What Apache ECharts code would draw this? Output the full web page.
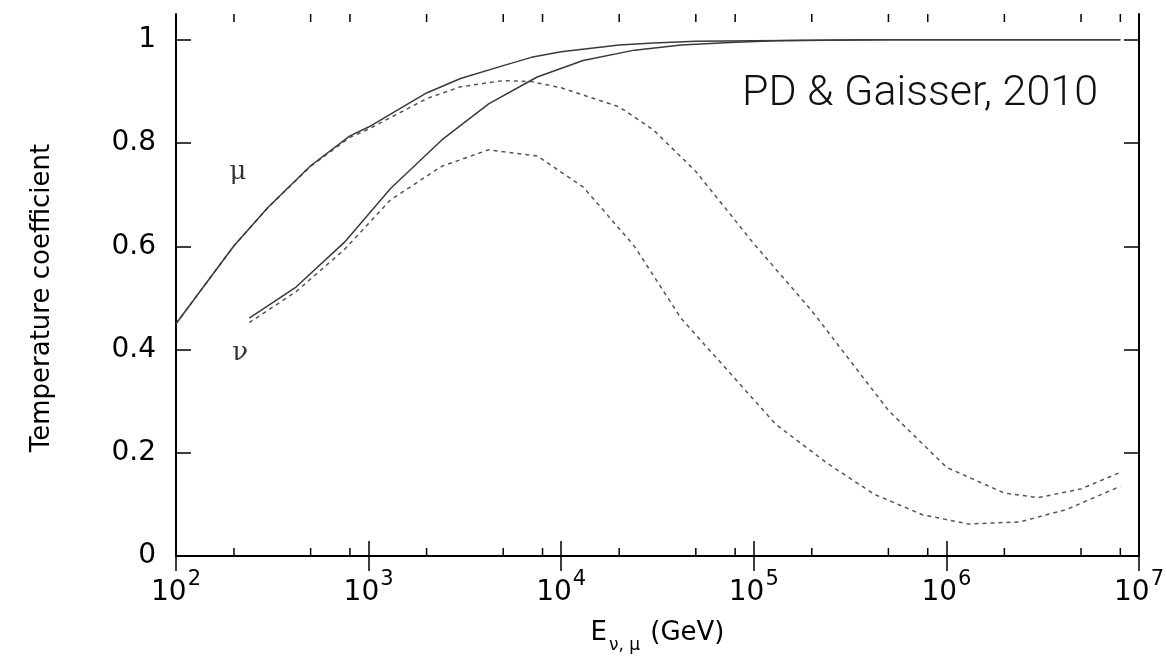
<!DOCTYPE html>
<html>
<head>
<meta charset="utf-8">
<script src="https://cdn.jsdelivr.net/npm/echarts@6/dist/echarts.min.js"></script>
<style>
html,body{margin:0;padding:0;background:#fff;}
#chart{width:1167px;height:659px;}
</style>
</head>
<body>
<div id="chart"></div>
<script>
// ---- data ----
var muX = [100, 200, 300, 500, 800, 1000, 2000, 3000, 5000, 7000, 1e4, 2e4, 3e4, 5e4, 1e5, 2e5, 5e5, 1e6, 2e6, 3e6, 5e6, 8e6];
var muSolid = [0.450, 0.601, 0.675, 0.756, 0.814, 0.831, 0.897, 0.925, 0.950, 0.966, 0.977, 0.990, 0.994, 0.997, 0.998, 0.999, 1.0, 1.0, 1.0, 1.0, 1.0, 1.0];
var muDashed = [0.450, 0.601, 0.675, 0.755, 0.811, 0.827, 0.886, 0.909, 0.921, 0.919, 0.907, 0.870, 0.826, 0.745, 0.605, 0.475, 0.282, 0.172, 0.122, 0.113, 0.130, 0.162];

var nuX = [240, 420, 750, 1300, 2400, 4200, 7500, 1.3e4, 2.4e4, 4.2e4, 7.5e4, 1.3e5, 2.4e5, 4.2e5, 7.5e5, 1.3e6, 2.4e6, 4.2e6, 8e6];
var nuSolid = [0.461, 0.521, 0.608, 0.712, 0.806, 0.876, 0.928, 0.960, 0.980, 0.990, 0.995, 0.998, 0.999, 1.0, 1.0, 1.0, 1.0, 1.0, 1.0];
var nuDashed = [0.452, 0.512, 0.594, 0.690, 0.755, 0.787, 0.775, 0.715, 0.600, 0.460, 0.355, 0.255, 0.180, 0.120, 0.080, 0.062, 0.066, 0.090, 0.135];

var xTickValues = [1e2, 1e3, 1e4, 1e5, 1e6, 1e7];
var xTickSup = ['2', '3', '4', '5', '6', '7'];
var xMinorTicks = [2e2, 5e2, 8e2, 2e3, 5e3, 8e3, 2e4, 5e4, 8e4, 2e5, 5e5, 8e5, 2e6, 5e6, 8e6];
var yTicks = [0, 0.2, 0.4, 0.6, 0.8, 1];
var yTickLabels = ['0', '0.2', '0.4', '0.6', '0.8', '1'];

var curveLabels = ['\u03bc', '\u03bd'];
var curveLabelPos = [[210, 0.744], [215, 0.393]];

var annotation = 'PD & Gaisser, 2010';
var xName = ['E', '\u03bd, \u03bc', ' (GeV)'];
var yName = 'Temperature coefficient';

function pairs(xs, ys) { return xs.map(function (x, i) { return [x, ys[i]]; }); }

var FONT = 'DejaVu Sans';
var chart = echarts.init(document.getElementById('chart'), null, {renderer: 'canvas'});

var frameLine = {show: true, lineStyle: {color: '#000', width: 2}};
var majorTick = {show: true, inside: true, length: 15, lineStyle: {color: '#000', width: 1.5}};

var option = {
  backgroundColor: '#fff',
  animation: false,
  grid: {left: 176, right: 26, top: 14, bottom: 103, containLabel: false},
  graphic: [{
    type: 'text', right: 69, top: 73,
    style: {text: annotation, font: '300 43px Roboto', fill: '#111'}
  }],
  xAxis: [{
    type: 'log', logBase: 10, min: 1e2, max: 1e7, position: 'bottom',
    axisLine: frameLine, axisTick: majorTick, splitLine: {show: false}, minorTick: {show: false},
    axisLabel: {
      margin: 23,
      formatter: function (v) {
        var i = xTickValues.findIndex(function (t) { return Math.abs(Math.log10(t) - Math.log10(v)) < 1e-6; });
        return i < 0 ? '' : '{b|10}{s|' + xTickSup[i] + '}';
      },
      rich: {
        b: {fontFamily: FONT, fontSize: 28, lineHeight: 28, color: '#000', verticalAlign: 'bottom'},
        s: {fontFamily: FONT, fontSize: 21, lineHeight: 21, color: '#000', verticalAlign: 'bottom', padding: [0, 0, 17, 1]}
      }
    },
    name: '{m|' + xName[0] + '}{sub|' + xName[1] + '}{m|' + xName[2] + '}',
    nameLocation: 'middle', nameGap: 72,
    nameTextStyle: {
      rich: {
        m: {fontFamily: FONT, fontSize: 26, lineHeight: 26, color: '#000', verticalAlign: 'bottom', padding: [0, 0, 8, 0]},
        sub: {fontFamily: FONT, fontSize: 17, lineHeight: 17, color: '#000', verticalAlign: 'bottom', padding: [0, 2, 0, 2]}
      }
    }
  }, {
    type: 'log', logBase: 10, min: 1e2, max: 1e7, position: 'top',
    axisLine: frameLine, axisTick: majorTick, axisLabel: {show: false}, splitLine: {show: false}
  }],
  yAxis: [{
    type: 'value', min: 0, max: 1.05, position: 'left',
    axisLine: frameLine,
    axisTick: {show: true, inside: true, length: 15, lineStyle: {color: '#000', width: 1.5}, customValues: yTicks},
    axisLabel: {
      customValues: yTicks, margin: 20, fontFamily: FONT, fontSize: 28, color: '#000',
      formatter: function (v) { var i = yTicks.findIndex(function (t) { return Math.abs(t - v) < 1e-9; }); return i < 0 ? '' : yTickLabels[i]; }
    },
    splitLine: {show: false},
    name: yName, nameLocation: 'middle', nameGap: 121, nameRotate: 90,
    nameTextStyle: {fontFamily: FONT, fontSize: 26, color: '#000', padding: [0, 26, 0, 0]}
  }, {
    type: 'value', min: 0, max: 1.05, position: 'right',
    axisLine: frameLine,
    axisTick: {show: true, inside: true, length: 15, lineStyle: {color: '#000', width: 1.5}, customValues: yTicks},
    axisLabel: {show: false, customValues: yTicks},
    splitLine: {show: false}
  }],
  series: [{
    type: 'line', name: 'mu solid', data: pairs(muX, muSolid), showSymbol: false, smooth: false,
    lineStyle: {color: '#3a3a3a', width: 1.5}, z: 3
  }, {
    type: 'line', name: 'mu dashed', data: pairs(muX, muDashed), showSymbol: false, smooth: false,
    lineStyle: {color: '#555', width: 1.5, type: [4, 4]}, z: 2
  }, {
    type: 'line', name: 'nu solid', data: pairs(nuX, nuSolid), showSymbol: false, smooth: false,
    lineStyle: {color: '#3a3a3a', width: 1.5}, z: 3
  }, {
    type: 'line', name: 'nu dashed', data: pairs(nuX, nuDashed), showSymbol: false, smooth: false,
    lineStyle: {color: '#555', width: 1.5, type: [4, 4]}, z: 2
  }, {
    type: 'scatter', symbolSize: 0, silent: true,
    data: curveLabelPos.map(function (p, i) { return {value: p, name: curveLabels[i]}; }),
    label: {show: true, position: 'inside', formatter: '{b}', fontFamily: 'DejaVu Serif', fontSize: 26, color: '#000'}
  }, {
    type: 'custom', silent: true, clip: false,
    data: xMinorTicks.map(function (v) { return [v, 0]; }),
    renderItem: function (params, api) {
      var v = api.value(0);
      var b = api.coord([v, 0]);
      var t = api.coord([v, 1.05]);
      var st = {stroke: '#000', lineWidth: 1.5};
      return {type: 'group', children: [
        {type: 'line', shape: {x1: b[0], y1: b[1], x2: b[0], y2: b[1] - 8}, style: st},
        {type: 'line', shape: {x1: t[0], y1: t[1], x2: t[0], y2: t[1] + 8}, style: st}
      ]};
    }
  }]
};
chart.setOption(option);
</script>
</body>
</html>
